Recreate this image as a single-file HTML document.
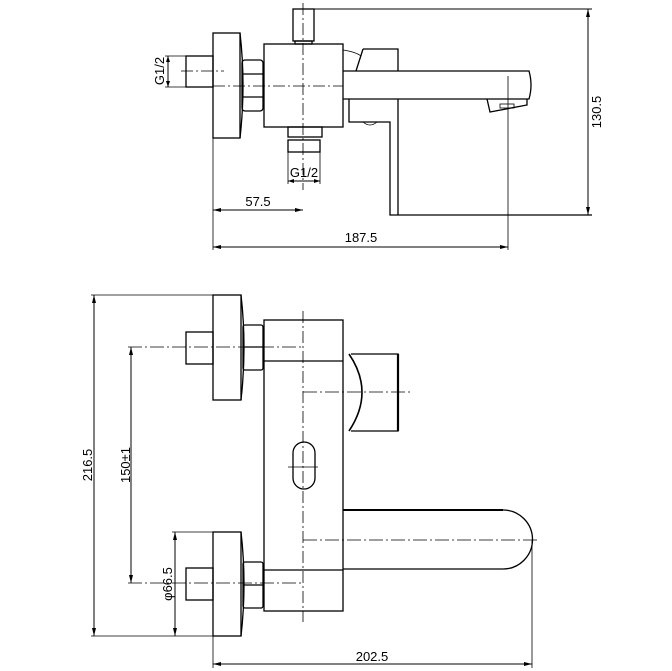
<!DOCTYPE html>
<html><head><meta charset="utf-8"><style>
html,body{margin:0;padding:0;background:#fff}
svg{display:block}
text{font-family:"Liberation Sans",sans-serif;font-size:13px;fill:#000}
</style></head><body>
<svg width="672" height="671" viewBox="0 0 672 671" xmlns="http://www.w3.org/2000/svg">
<g fill="none" stroke="#000" stroke-width="1.3">
<!-- TOP VIEW -->
<rect x="213" y="33" width="27" height="105"/>
<path d="M240 33 Q246 85 240 138"/>
<rect x="186" y="56" width="27" height="31"/>
<rect x="242" y="60" width="21" height="51" rx="3"/>
<line x1="242" y1="74" x2="263" y2="74"/><line x1="242" y1="97" x2="263" y2="97"/>
<rect x="264" y="44" width="79" height="83"/>
<rect x="293" y="9" width="21" height="32"/>
<rect x="295" y="41" width="17" height="3"/>
<path d="M363 49 L398 49 L398 71"/><line x1="363" y1="49" x2="356" y2="71"/>
<path d="M343 50 Q356 52 361 56" stroke-width="0.8"/>
<path d="M343 71 L529 71 Q533 85 529 99 L343 99"/>
<path d="M349 99 L349 122 L390 122 L390 215 L592 215"/>
<line x1="398" y1="99" x2="398" y2="215"/>
<path d="M363 122 Q370 128 377 122" stroke-width="0.8"/>
<path d="M487 99 L490 112 L527 105 L527 99"/>
<rect x="500" y="104" width="14" height="4" stroke-width="0.8"/>
<rect x="288" y="127" width="34" height="10"/>
<rect x="288" y="140" width="32" height="12"/>
<!-- dims top -->
<line x1="314" y1="9" x2="592" y2="9" stroke-width="1"/>
<line x1="588" y1="9" x2="588" y2="215" stroke-width="1"/>
<line x1="168" y1="56" x2="168" y2="87" stroke-width="1"/>
<line x1="165" y1="56" x2="186" y2="56" stroke-width="0.8"/><line x1="165" y1="87" x2="186" y2="87" stroke-width="0.8"/>
<line x1="288" y1="152" x2="288" y2="184" stroke-width="0.8"/><line x1="320" y1="152" x2="320" y2="184" stroke-width="0.8"/>
<line x1="288" y1="181" x2="320" y2="181" stroke-width="1"/>
<line x1="213" y1="138" x2="213" y2="250" stroke-width="0.8"/>
<line x1="213" y1="210" x2="303" y2="210" stroke-width="1"/>
<line x1="213" y1="247" x2="508" y2="247" stroke-width="1"/>
<line x1="508" y1="76" x2="508" y2="250" stroke-width="0.8"/>
<!-- centerlines -->
<line x1="303" y1="3" x2="303" y2="190" stroke-width="0.8" stroke-dasharray="12,3,2,3"/>
<line x1="213" y1="86" x2="343" y2="86" stroke-width="0.8" stroke-dasharray="12,3,2,3"/>
<line x1="181" y1="71" x2="224" y2="71" stroke-width="0.8" stroke-dasharray="12,3,2,3"/>

<!-- BOTTOM VIEW -->
<rect x="213" y="295" width="28" height="105"/>
<path d="M241 295 Q247 347 241 400"/>
<rect x="186" y="332" width="27" height="32"/>
<rect x="243" y="325" width="20" height="45" rx="2"/><line x1="243" y1="347" x2="263" y2="347"/>
<rect x="213" y="532" width="28" height="104"/>
<path d="M241 532 Q247 584 241 636"/>
<rect x="186" y="568" width="27" height="32"/>
<rect x="243" y="562" width="20" height="46" rx="2"/><line x1="243" y1="585" x2="263" y2="585"/>
<rect x="264" y="320" width="79" height="291"/>
<line x1="264" y1="361" x2="343" y2="361"/>
<line x1="264" y1="570" x2="343" y2="570"/>
<path d="M351 354 L398 354 L398 431 L351 431"/>
<line x1="398" y1="354" x2="398" y2="431" stroke-width="2.2"/>
<path d="M349 354 Q375 392 349 431" stroke-width="1.6"/>
<rect x="293" y="442" width="22" height="47" rx="11"/>
<line x1="288" y1="467" x2="318" y2="467" stroke-width="0.8"/>
<path d="M343 510 L503 510 A29.5 29.5 0 0 1 503 569 L343 569"/>
<line x1="343" y1="510" x2="503" y2="510" stroke-width="2"/>
<!-- centerlines -->
<line x1="303" y1="311" x2="303" y2="622" stroke-width="0.8" stroke-dasharray="12,3,2,3"/>
<line x1="128" y1="347" x2="303" y2="347" stroke-width="0.8" stroke-dasharray="14,3,2,3"/>
<line x1="128" y1="583" x2="303" y2="583" stroke-width="0.8" stroke-dasharray="14,3,2,3"/>
<line x1="303" y1="392" x2="410" y2="392" stroke-width="0.8" stroke-dasharray="14,3,2,3"/>
<line x1="303" y1="540" x2="537" y2="540" stroke-width="0.8" stroke-dasharray="14,3,2,3"/>
<!-- dims bottom -->
<line x1="91" y1="295" x2="213" y2="295" stroke-width="0.8"/>
<line x1="91" y1="636" x2="213" y2="636" stroke-width="0.8"/>
<line x1="94" y1="295" x2="94" y2="636" stroke-width="1"/>
<line x1="131" y1="347" x2="131" y2="583" stroke-width="1"/>
<line x1="172" y1="532" x2="213" y2="532" stroke-width="0.8"/>
<line x1="175" y1="532" x2="175" y2="636" stroke-width="1"/>
<line x1="213" y1="636" x2="213" y2="668" stroke-width="0.8"/>
<line x1="532" y1="540" x2="532" y2="668" stroke-width="0.8"/>
<line x1="213" y1="664" x2="532" y2="664" stroke-width="1"/>
</g>
<g fill="#000">
<path d="M588 9 l-2 8 h4z M588 215 l-2 -8 h4z M168 56 l-2 6 h4z M168 87 l-2 -6 h4z M288 181 l6 -2 v4z M320 181 l-6 -2 v4z M213 210 l8 -2 v4z M303 210 l-8 -2 v4z M213 247 l8 -2 v4z M508 247 l-8 -2 v4z"/>
<path d="M94 295 l-2 8 h4z M94 636 l-2 -8 h4z M131 347 l-2 8 h4z M131 583 l-2 -8 h4z M175 532 l-2 8 h4z M175 636 l-2 -8 h4z M213 664 l8 -2 v4z M532 664 l-8 -2 v4z"/>
</g>
<text x="258" y="210" text-anchor="middle" dy="-4">57.5</text>
<text x="361" y="246" text-anchor="middle" dy="-4">187.5</text>
<text x="304" y="177" text-anchor="middle">G1/2</text>
<text transform="translate(164,71) rotate(-90)" text-anchor="middle">G1/2</text>
<text transform="translate(601,112) rotate(-90)" text-anchor="middle">130.5</text>
<text transform="translate(92,465) rotate(-90)" text-anchor="middle">216.5</text>
<text transform="translate(130,465) rotate(-90)" text-anchor="middle">150±1</text>
<text transform="translate(172,584) rotate(-90)" text-anchor="middle">φ66.5</text>
<text x="372" y="664" text-anchor="middle" dy="-3">202.5</text>
</svg>
</body></html>
